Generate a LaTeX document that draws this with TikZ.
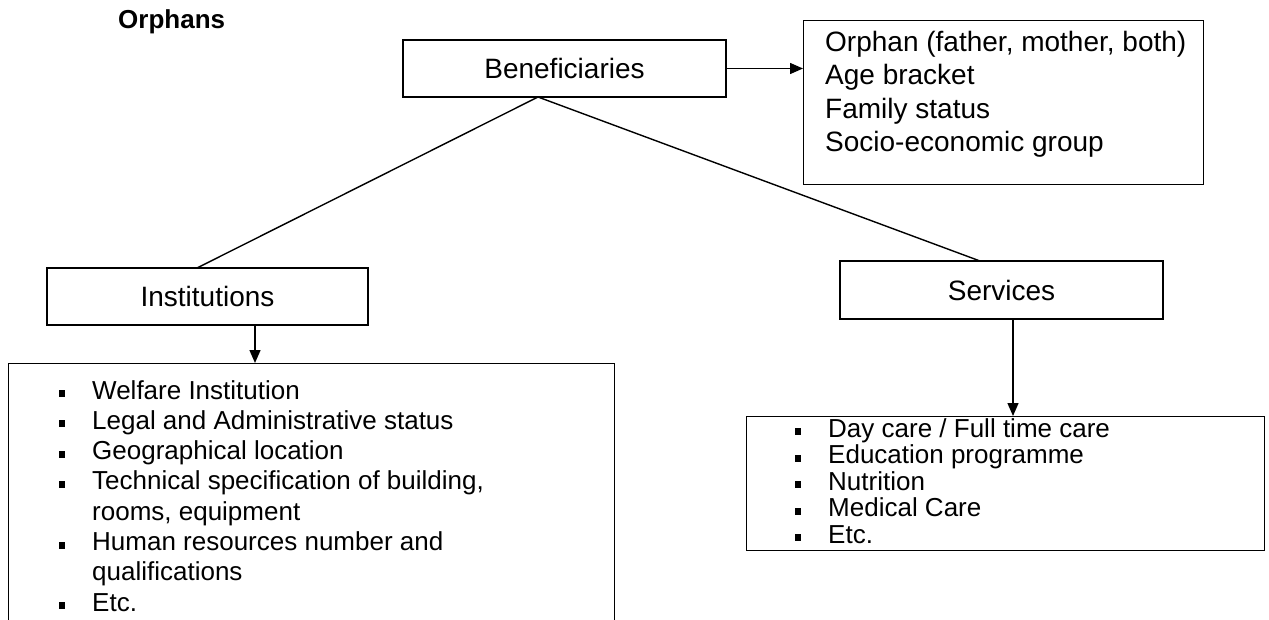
\documentclass[tikz,border=0pt]{standalone}
\usepackage{fontspec}
\setmainfont{Liberation Sans}
\usetikzlibrary{arrows.meta}
\newcommand\bul{\makebox[33pt][l]{\rule[2pt]{6pt}{7pt}}}
\newcommand\ind{\hspace*{33pt}}
\begin{document}
\begin{tikzpicture}[x=1pt,y=-1pt,
  frame/.style={draw, line width=1.4pt, inner sep=0pt},
  title/.style={frame, font=\fontsize{28}{33}\selectfont},
  txt/.style={inner sep=0pt, anchor=north west, align=left},
  conn/.style={line width=1.4pt},
  arr/.style={conn, -{Triangle[length=13pt,width=11pt]}}]
\useasboundingbox (0,0) rectangle (1269,620);
\clip (0,0) rectangle (1269,620);
\node[txt, anchor=base west, font=\bfseries\fontsize{26}{30}\selectfont] (orph) at (118,29) {Orphans};
% Beneficiaries
\node[title, minimum width=323pt, minimum height=57pt] (ben) at (564.5,68.5) {Beneficiaries};
% info box
\node[frame, minimum width=400pt, minimum height=164pt, anchor=north west] (info) at (803,20) {};
\node[txt, font=\fontsize{28}{33.3}\selectfont] (infotxt) at (825,31) {Orphan (father, mother, both)\\Age bracket\\Family status\\Socio-economic group};
\draw[arr] (ben.east) -- (ben.east -| info.west);
% second level
\node[title, minimum width=321pt, minimum height=57pt] (inst) at (207.5,296.5) {Institutions};
\node[title, minimum width=323pt, minimum height=58pt] (serv) at (1001.5,290) {Services};
\coordinate (bb) at (538,97);
\coordinate (ie) at (197,268);
\coordinate (se) at (980,261);
\draw[conn] (bb) -- (ie);
\draw[conn] (bb) -- (se);
% lists
\node[frame, minimum width=606pt, minimum height=300pt, anchor=north west] (ilist) at (8,363) {};
\node[txt, font=\fontsize{26}{30.3}\selectfont] (itxt) at (59,380) {\bul Welfare Institution\\\bul Legal and Administrative status\\\bul Geographical location\\\bul Technical specification of building,\\\ind rooms, equipment\\\bul Human resources number and\\\ind qualifications\\\bul Etc.};
\node[frame, minimum width=518pt, minimum height=134pt, anchor=north west] (slist) at (746,416) {};
\node[txt, font=\fontsize{26}{26.6}\selectfont] (stxt) at (795,418) {\bul Day care / Full time care\\\bul Education programme\\\bul Nutrition\\\bul Medical Care\\\bul Etc.};
\draw[arr] (255,325) -- (255,363);
\draw[arr] (serv.south -| 1013,0) -- (slist.north -| 1013,0);
\end{tikzpicture}
\end{document}
